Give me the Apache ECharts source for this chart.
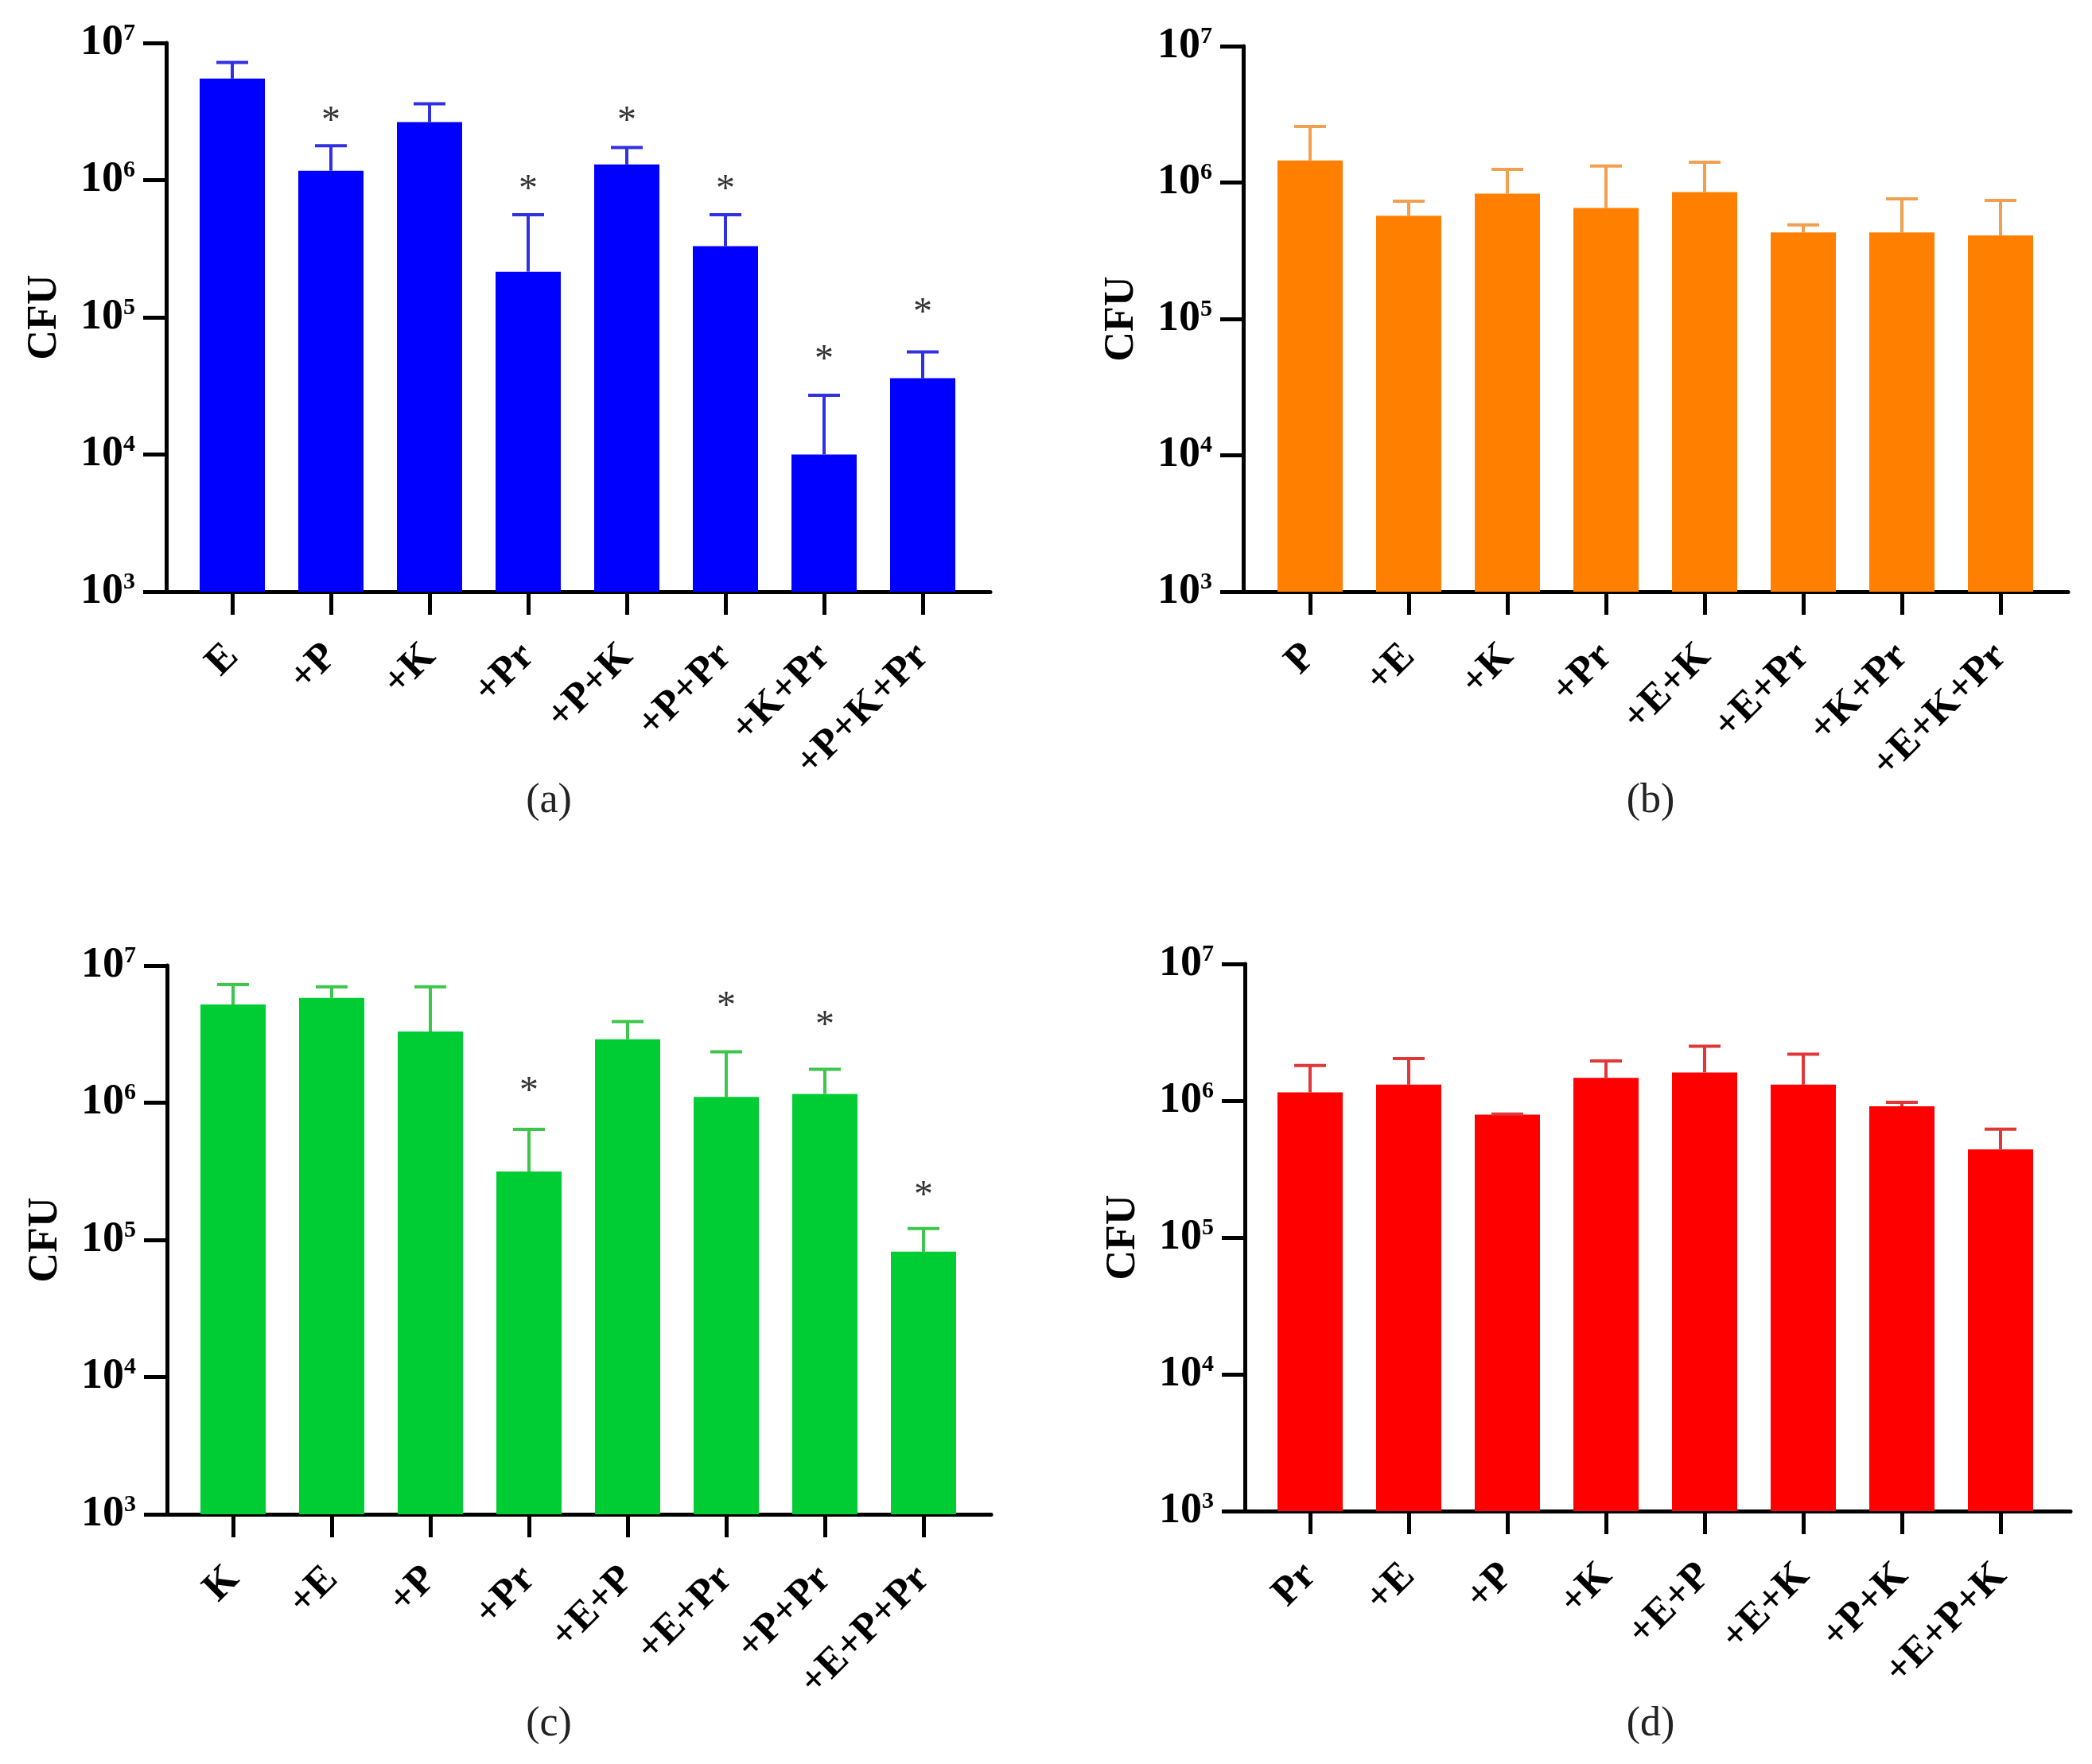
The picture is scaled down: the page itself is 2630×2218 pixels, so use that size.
<!DOCTYPE html>
<html>
<head>
<meta charset="utf-8">
<script src="https://cdn.jsdelivr.net/npm/echarts@6/dist/echarts.min.js"></script>
<style>
  html, body { margin: 0; background: #fff; }
  #chart { width: 2630px; height: 2218px; }
</style>
</head>
<body>
<div id="chart"></div>
<script>
// (a)
var catsA = ['E', '+P', '+K', '+Pr', '+P+K', '+P+Pr', '+K+Pr', '+P+K+Pr'];
var meanA = [5.5e6, 1.17e6, 2.65e6, 2.15e5, 1.3e6, 3.3e5, 1.0e4, 3.6e4];
var errA  = [7.2e6, 1.78e6, 3.6e6, 5.6e5, 1.73e6, 5.6e5, 2.7e4, 5.6e4];
var starA = [0, 2.95e6, 0, 9.4e5, 2.95e6, 9.4e5, 5.4e4, 1.18e5];

// (b)
var catsB = ['P', '+E', '+K', '+Pr', '+E+K', '+E+Pr', '+K+Pr', '+E+K+Pr'];
var meanB = [1.45e6, 5.7e5, 8.3e5, 6.5e5, 8.5e5, 4.3e5, 4.3e5, 4.1e5];
var errB  = [2.58e6, 7.3e5, 1.25e6, 1.32e6, 1.41e6, 4.9e5, 7.6e5, 7.4e5];
var starB = [0, 0, 0, 0, 0, 0, 0, 0];

// (c)
var catsC = ['K', '+E', '+P', '+Pr', '+E+P', '+E+Pr', '+P+Pr', '+E+P+Pr'];
var meanC = [5.2e6, 5.8e6, 3.3e6, 3.15e5, 2.9e6, 1.1e6, 1.16e6, 8.2e4];
var errC  = [7.26e6, 7.0e6, 7.0e6, 6.4e5, 3.9e6, 2.35e6, 1.75e6, 1.21e5];
var starC = [0, 0, 0, 1.33e6, 0, 5.5e6, 4.0e6, 2.3e5];

// (d)
var catsD = ['Pr', '+E', '+P', '+K', '+E+P', '+E+K', '+P+K', '+E+P+K'];
var meanD = [1.15e6, 1.31e6, 7.9e5, 1.47e6, 1.61e6, 1.31e6, 9.1e5, 4.4e5];
var errD  = [1.81e6, 2.03e6, 8.0e5, 1.95e6, 2.5e6, 2.19e6, 9.75e5, 6.2e5];
var starD = [0, 0, 0, 0, 0, 0, 0, 0];

var FONT = '"Liberation Serif", "DejaVu Serif", serif';

var panels = [
    {cats: catsA, mean: meanA, err: errA, star: starA, color: '#0000FF', errColor: '#3030E2', tag: '(a)',
     axisX: 209, top: 54, bottom: 744, first: 292, band: 124, right: 1245, tagX: 690, tagY: 1007},
    {cats: catsB, mean: meanB, err: errB, star: starB, color: '#FF8000', errColor: '#F2A050', tag: '(b)',
     axisX: 1563, top: 58, bottom: 744, first: 1647, band: 124, right: 2600, tagX: 2075, tagY: 1007},
    {cats: catsC, mean: meanC, err: errC, star: starC, color: '#00CC33', errColor: '#3EC64C', tag: '(c)',
     axisX: 210, top: 1214, bottom: 1904, first: 293, band: 124, right: 1246, tagX: 690, tagY: 2168},
    {cats: catsD, mean: meanD, err: errD, star: starD, color: '#FF0000', errColor: '#E03838', tag: '(d)',
     axisX: 1565, top: 1212, bottom: 1900, first: 1647, band: 124, right: 2603, tagX: 2075, tagY: 2168}
];

var myChart = echarts.init(document.getElementById('chart'));

var grid = [], xAxis = [], yAxis = [], series = [], graphic = [];

panels.forEach(function (p, i) {
    var f = 2 * i, b = 2 * i + 1;
    var h = p.bottom - p.top;

    // frame grid: axis lines, y ticks and labels
    grid.push({left: p.axisX, top: p.top, width: p.right - p.axisX, height: h});
    // bar grid: categories
    grid.push({left: p.first - p.band / 2, top: p.top, width: p.band * 8, height: h});

    xAxis.push({
        gridIndex: f, type: 'category', data: p.cats,
        axisLine: {lineStyle: {color: '#000', width: 5}},
        axisTick: {show: false}, axisLabel: {show: false}, splitLine: {show: false}
    });
    xAxis.push({
        gridIndex: b, type: 'category', data: p.cats,
        axisLine: {show: false},
        axisTick: {show: true, alignWithLabel: true, length: 29, lineStyle: {color: '#000', width: 5}},
        axisLabel: {
            interval: 0, rotate: 45, margin: 74,
            color: '#000', fontFamily: FONT, fontWeight: 'bold', fontSize: 51
        },
        splitLine: {show: false}
    });

    yAxis.push({
        gridIndex: f, type: 'log', logBase: 10, min: 1e3, max: 1e7,
        name: 'CFU', nameLocation: 'middle', nameGap: 126, nameRotate: 90,
        nameTextStyle: {color: '#000', fontFamily: FONT, fontWeight: 'bold', fontSize: 52},
        axisLine: {show: true, lineStyle: {color: '#000', width: 5}},
        axisTick: {show: true, length: 29, lineStyle: {color: '#000', width: 5}},
        splitLine: {show: false},
        axisLabel: {
            margin: 39,
            formatter: function (v) {
                return '{b|10}{s|' + Math.round(Math.log10(v)) + '}';
            },
            rich: {
                b: {color: '#000', fontFamily: FONT, fontWeight: 'bold', fontSize: 54, lineHeight: 54},
                s: {color: '#000', fontFamily: FONT, fontWeight: 'bold', fontSize: 30, verticalAlign: 'top', lineHeight: 50}
            }
        }
    });
    yAxis.push({
        gridIndex: b, type: 'log', logBase: 10, min: 1e3, max: 1e7, show: false
    });

    series.push({
        type: 'bar', xAxisIndex: b, yAxisIndex: b,
        barWidth: 82, data: p.mean, silent: true,
        itemStyle: {color: p.color}
    });

    var ec = p.errColor;
    series.push({
        type: 'custom', xAxisIndex: b, yAxisIndex: b, silent: true, z: 5,
        data: p.mean.map(function (m, k) { return [k, m, p.err[k], p.star[k]]; }),
        renderItem: function (params, api) {
            var k = api.value(0);
            var base = api.coord([k, api.value(1)]);
            var top = api.coord([k, api.value(2)]);
            var kids = [
                {type: 'line', shape: {x1: base[0], y1: base[1], x2: top[0], y2: top[1]},
                 style: {stroke: ec, lineWidth: 4}},
                {type: 'line', shape: {x1: top[0] - 20, y1: top[1], x2: top[0] + 20, y2: top[1]},
                 style: {stroke: ec, lineWidth: 4}}
            ];
            var s = api.value(3);
            if (s > 0) {
                var sp = api.coord([k, s]);
                kids.push({
                    type: 'text', x: sp[0], y: sp[1] + 8,
                    style: {text: '*', align: 'center', verticalAlign: 'middle',
                            fontFamily: FONT, fontSize: 48, fill: '#333'}
                });
            }
            return {type: 'group', children: kids};
        }
    });

    graphic.push({
        type: 'text', x: p.tagX, y: p.tagY,
        style: {text: p.tag, align: 'center', verticalAlign: 'middle',
                fontFamily: FONT, fontSize: 52, fill: '#222'}
    });
});

var option = {
    backgroundColor: '#fff',
    animation: false,
    grid: grid,
    xAxis: xAxis,
    yAxis: yAxis,
    series: series,
    graphic: graphic
};

option && myChart.setOption(option);
</script>
</body>
</html>
